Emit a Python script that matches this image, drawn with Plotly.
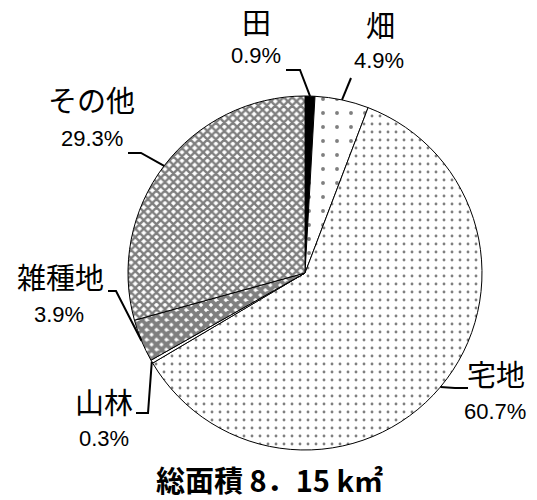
import math
import plotly.graph_objects as go

# ---- data ----
categories = ["田", "畑", "宅地", "山林", "雑種地", "その他"]
shares = [0.9, 4.9, 60.7, 0.3, 3.9, 29.3]
pct_labels = ["0.9%", "4.9%", "60.7%", "0.3%", "3.9%", "29.3%"]
title_text = "総面積 8．15 k㎡"

# ---- styles ----
W, H = 537, 500
CX, CY, R = 297, 265, 177
fill_colors = ["black", "white", "white", "white", "white", "white"]
pat_shapes = ["", ".", ".", "", "x", "x"]
pat_sizes = [8, 14, 8, 8, 7, 6]
pat_solid = [0.3, 0.06, 0.1, 0.3, 0.8, 0.65]

# label placement (px): name pos, pct pos, leader elbow points
name_pos = [(248, 13), (372, 16), (488, 365), (96, 393), (52, 268), (83, 91)]
pct_pos = [(248, 48), (371, 53), (487, 403), (96, 430), (51, 306), (84, 130)]
leader_pts = [
    [(278, 62), (292, 62)],
    [(343, 70)],
    [(460, 380), (447, 380)],
    [(128, 405), (140, 405)],
    [(100, 283), (108, 283)],
    [(120, 145), (133, 145)],
]

fig = go.Figure()
fig.add_trace(go.Pie(
    labels=categories,
    values=shares,
    sort=False,
    direction="clockwise",
    rotation=0,
    textinfo="none",
    hoverinfo="label+percent",
    marker=dict(
        colors=fill_colors,
        line=dict(color="black", width=1),
        pattern=dict(shape=pat_shapes, size=pat_sizes, solidity=pat_solid,
                     fgcolor="black", bgcolor="white", fillmode="overlay"),
    ),
    domain=dict(x=[(CX - R) / W, (CX + R) / W], y=[1 - (CY + R) / H, 1 - (CY - R) / H]),
    showlegend=False,
))


def px(x, y):
    return x / W, 1 - y / H


shapes = []
annotations = []
total = sum(shares)
cum = 0.0
for i, v in enumerate(shares):
    mid = (cum + v / 2) / total * 2 * math.pi
    cum += v
    ax = CX + R * math.sin(mid)
    ay = CY - R * math.cos(mid)
    pts = leader_pts[i] + [(ax, ay)]
    path = "M " + " L ".join(f"{px(x, y)[0]},{px(x, y)[1]}" for x, y in pts)
    shapes.append(dict(type="path", xref="paper", yref="paper", path=path,
                       line=dict(color="black", width=2)))
    nx, ny = px(*name_pos[i])
    annotations.append(dict(x=nx, y=ny, xref="paper", yref="paper", text=categories[i],
                            showarrow=False, xanchor="center", yanchor="middle",
                            font=dict(family="Noto Sans CJK JP", size=29, color="black")))
    qx, qy = px(*pct_pos[i])
    annotations.append(dict(x=qx, y=qy, xref="paper", yref="paper", text=pct_labels[i],
                            showarrow=False, xanchor="center", yanchor="middle",
                            font=dict(family="Liberation Sans", size=22, color="black")))

tx, ty = px(261, 471)
annotations.append(dict(x=tx, y=ty, xref="paper", yref="paper", text=f"<b>{title_text}</b>",
                        showarrow=False, xanchor="center", yanchor="middle",
                        font=dict(family="Noto Sans CJK JP", size=29, color="black")))

fig.update_layout(
    width=W, height=H,
    margin=dict(l=0, r=0, t=0, b=0),
    paper_bgcolor="white", plot_bgcolor="white",
    shapes=shapes, annotations=annotations,
)

fig.write_html("out.html")
